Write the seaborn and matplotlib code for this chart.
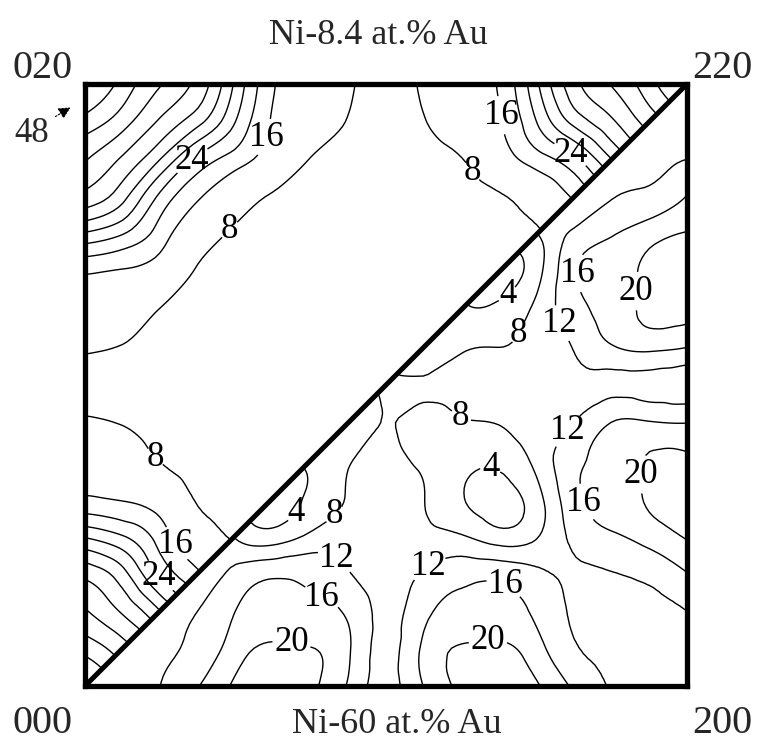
import numpy as np
import matplotlib
matplotlib.use("Agg")
import matplotlib.pyplot as plt
import matplotlib.tri as mtri
import seaborn as sns
from matplotlib.path import Path

# ---- grid positions (reciprocal-space coordinates h and k, 000 -> 200 / 020) ----
grid_hk = [0.0, 0.125, 0.25, 0.375, 0.5, 0.625, 0.75, 0.875, 1.0,
           1.125, 1.25, 1.375, 1.5, 1.625, 1.75, 1.875, 2.0]

# ---- Ni-8.4 at.% Au : diffuse intensity read on the upper-left triangle (k >= h)
# row j (k = grid_hk[j]) holds values for h = grid_hk[0..j]
ni84_rows = [
    [58],
    [50.5, 45.7],
    [44.3, 39.4, 32],
    [38.7, 33.3, 23, 16.5],
    [27.2, 24, 18.1, 11.3, 7.3],
    [16.4, 15.5, 13, 7.4, 6, 5.2],
    [12.4, 11.5, 7.8, 6, 5.3, 5, 4.9],
    [8.7, 7.7, 6, 5.5, 5, 4.9, 4.8, 4.8],
    [6.3, 6, 5.5, 5.2, 5, 4.8, 4.7, 4.7, 4.8],
    [8.7, 7.7, 6, 5.5, 5, 4.8, 4.7, 4.7, 4.8, 4.8],
    [12.4, 11.5, 7.8, 6, 5.3, 5, 4.8, 4.8, 4.9, 5, 5],
    [16.4, 15.5, 13, 7.4, 6, 5.2, 5, 5, 5, 5, 5.1, 5.2],
    [27.2, 24, 18.1, 11.3, 7.3, 6, 5.3, 5, 5, 5.1, 5.3, 6, 7.3],
    [38.7, 33.3, 23, 16.5, 11.3, 7.4, 6, 5.5, 5.2, 5.5, 6, 7.4, 11.3, 16.5],
    [44.3, 39.4, 32, 23, 18.1, 13, 7.8, 6, 5.5, 6, 7.8, 13, 18.1, 23, 32],
    [50.5, 45.7, 39.4, 33.3, 24, 15.5, 11.5, 7.7, 6, 7.7, 11.5, 15.5, 24, 33.3, 39.4, 45.7],
    [58, 50.5, 44.3, 38.7, 27.2, 16.4, 12.4, 8.7, 6.3, 8.7, 12.4, 16.4, 27.2, 38.7, 44.3, 50.5, 58],
]

# ---- Ni-60 at.% Au : diffuse intensity read on the lower-right triangle (h >= k)
# row j (k = grid_hk[j]) holds values for h = grid_hk[j..16]
ni60_rows = [
    [11, 11.3, 12, 15.8, 20.7, 22.5, 20.6, 15.5, 10.8, 16.1, 20.7, 22.5, 20.5, 15.3, 11.7, 10.8, 10.5],
    [11.2, 11.5, 13.2, 18, 20.8, 20.1, 16.5, 10.8, 16.8, 20.3, 20.8, 17.5, 12.4, 11.3, 11, 11.2],
    [10.8, 12, 16, 17.2, 17, 15.2, 11, 14.7, 17.5, 17.5, 15.2, 11.5, 11.2, 11.2, 12],
    [10, 13.2, 15.2, 14.8, 12.2, 10.5, 12.3, 14.5, 14.8, 12.8, 11.5, 11.9, 13, 15.9],
    [7.5, 5.5, 8.7, 10, 10, 9, 8.2, 5.5, 7.5, 13, 15.5, 17.8, 20.5],
    [2.5, 4.6, 8.3, 9.5, 8.1, 4.3, 2.5, 6.5, 14.9, 18, 20.5, 22],
    [4.6, 7.6, 9, 7.3, 5.5, 4.8, 9.2, 14.8, 17.9, 20.3, 20.5],
    [6.5, 8.1, 7, 7.7, 8.2, 10.5, 12, 16.1, 16.3, 15.9],
    [8.2, 8.3, 9, 9.5, 10.5, 11.3, 11, 10.5, 10],
    [6.5, 7.5, 8, 9.5, 12.2, 15.6, 17, 16],
    [4.5, 4.8, 9, 14.4, 18, 20.8, 21],
    [2.5, 6.5, 15.5, 18.2, 21, 22.5],
    [7.8, 13, 15.8, 18.4, 20.3],
    [9, 11.7, 13, 16.2],
    [9.5, 10.8, 12],
    [10, 11.2],
    [10.5],
]

levels_84 = [8, 16, 20, 24, 28, 32, 36, 40, 44, 48, 52]
levels_60 = [4, 8, 12, 16, 20]

# contour-label anchor points (h, k) per level
labels_84 = {8: [(0.458, 1.538), (1.289, 1.711), (0.233, 0.761)],
             16: [(0.625, 1.814), (1.329, 1.887), (0.326, 0.485)],
             24: [(0.349, 1.754), (1.611, 1.764), (0.233, 0.352)]}
labels_60 = {4: [(0.681, 0.591), (1.346, 0.718), (1.405, 1.299)],
             8: [(0.837, 0.561), (1.246, 0.890), (1.452, 1.166)],
             12: [(0.831, 0.419), (1.136, 0.402), (1.588, 0.860), (1.568, 1.199)],
             16: [(0.787, 0.296), (1.395, 0.336), (1.654, 0.608), (1.645, 1.372)],
             20: [(0.688, 0.153), (1.339, 0.146), (1.817, 0.708), (1.821, 1.312)]}

title_top = "Ni-8.4 at.% Au"
title_bottom = "Ni-60 at.% Au"
corner_labels = ["000", "200", "020", "220"]
peak_label = "48"

# ---- build full (mirror-symmetric) grids from the triangular readings ----
n = len(grid_hk)
Z84 = np.empty((n, n))
Z60 = np.empty((n, n))
for j in range(n):
    for i in range(n):
        Z84[j, i] = ni84_rows[j][i] if i <= j else ni84_rows[i][j]
        Z60[j, i] = ni60_rows[j][i - j] if i >= j else ni60_rows[i][j - i]
H, K = np.meshgrid(grid_hk, grid_hk)

# triangulation of the reading grid (cells split along the h = k direction)
tris = []
for j in range(n - 1):
    for i in range(n - 1):
        v00, v10 = j * n + i, j * n + i + 1
        v01, v11 = (j + 1) * n + i, (j + 1) * n + i + 1
        tris.append([v00, v10, v11])
        tris.append([v00, v11, v01])
tri = mtri.Triangulation(H.ravel(), K.ravel(), np.array(tris))
refiner = mtri.UniformTriRefiner(tri)

sns.set_style("white")
plt.rcParams['font.family'] = ['Liberation Serif', 'DejaVu Serif']

fig = plt.figure(figsize=(7.58, 7.42), dpi=100)
ax = fig.add_axes([85 / 758, 56 / 742, 602 / 758, 602 / 742])
ax.set_xlim(0, 2)
ax.set_ylim(0, 2)
ax.set_xticks([])
ax.set_yticks([])

upper_tri = Path([(0, 0), (0, 2), (2, 2), (0, 0)], closed=True)
lower_tri = Path([(0, 0), (2, 0), (2, 2), (0, 0)], closed=True)

for Z, levels, labs, clip in ((Z84, levels_84, labels_84, upper_tri),
                              (Z60, levels_60, labels_60, lower_tri)):
    tri_f, z_f = refiner.refine_field(Z.ravel(), subdiv=3)
    for lev in levels:
        cs = ax.tricontour(tri_f, z_f, levels=[lev], colors='black', linewidths=1.0)
        cs.set_clip_path(clip, ax.transData)
        if lev in labs:
            cs.clabel(manual=labs[lev], fmt='%d', fontsize=25,
                      inline=True, inline_spacing=2)
            for t in cs.labelTexts:
                t.set_rotation(0)

# diagonal separating the two alloys
ax.axline((0, 0), slope=1, color='black', lw=3.6, solid_capstyle='butt')

for s in ax.spines.values():
    s.set_linewidth(3.8)
    s.set_color('black')
    s.set_capstyle('projecting')
    s.set_visible(True)

W, Hpx = 758, 742
fs = 29
fig.text(378 / W, 1 - 44 / Hpx, title_top, ha='center', va='baseline', fontsize=26)
fig.text(397 / W, 1 - 733 / Hpx, title_bottom, ha='center', va='baseline', fontsize=26)
fig.text(73 / W, 1 - 733 / Hpx, corner_labels[0], ha='right', va='baseline', fontsize=fs)
fig.text(692 / W, 1 - 733 / Hpx, corner_labels[1], ha='left', va='baseline', fontsize=fs)
fig.text(73 / W, 1 - 78 / Hpx, corner_labels[2], ha='right', va='baseline', fontsize=fs)
fig.text(692 / W, 1 - 78 / Hpx, corner_labels[3], ha='left', va='baseline', fontsize=fs)
fig.text(14 / W, 1 - 142 / Hpx, peak_label, ha='left', va='baseline', fontsize=25)
fig.add_artist(matplotlib.patches.FancyArrowPatch(
    (53 / W, 1 - 118 / Hpx), (73 / W, 1 - 106 / Hpx), transform=fig.transFigure,
    arrowstyle='-|>', mutation_scale=18, linestyle=(0, (1.5, 1.5)), lw=0.8, color='black'))

fig.savefig("out.png", dpi=100)
